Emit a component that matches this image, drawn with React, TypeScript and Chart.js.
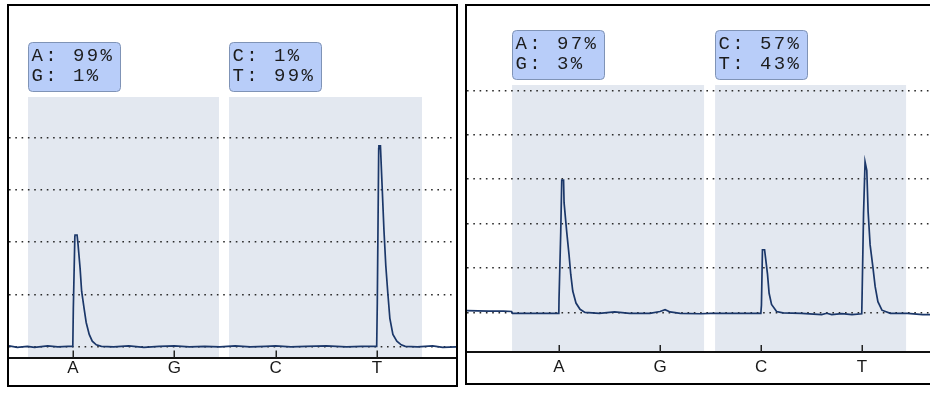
import { useEffect, useRef } from 'react';
import { Chart, registerables } from 'chart.js';

Chart.register(...registerables);

// ---- data ----
const categories = ['A', 'G', 'C', 'T'];
const tickPositions = [1, 2, 3, 4];

const leftPercents = [99, 1, 1, 99];
const rightPercents = [97, 3, 57, 43];

// shaded dispensation groups (x in dispensation units)
const leftShades = [[0.556, 2.441], [2.54, 4.445]];
const rightShades = [[0.535, 2.436], [2.545, 4.436]];

const leftGridValues = [0, 10, 20, 30, 40];
const rightGridValues = [0, 10, 20, 30, 40, 50];

const leftTraceX = [
  0.368, 0.45, 0.55, 0.62, 0.75, 0.85, 0.95, 0.998,
  1.003, 1.018, 1.02, 1.04, 1.05, 1.07, 1.085, 1.11, 1.13, 1.16, 1.19, 1.23, 1.28,
  1.4, 1.55, 1.7, 1.85, 2.0, 2.15, 2.3, 2.45, 2.6, 2.75, 2.9, 3.0, 3.15, 3.3, 3.5, 3.7, 3.85, 3.998,
  4.004, 4.018, 4.02, 4.035, 4.05, 4.07, 4.088, 4.108, 4.128, 4.158, 4.197, 4.24, 4.28,
  4.4, 4.55, 4.65, 4.781,
];
const leftTraceY = [
  0.1, -0.2, 0.0, -0.2, 0.1, -0.1, 0.0, 0.0,
  7.2, 21.0, 21.4, 21.4, 19.5, 15.0, 10.6, 7.2, 4.6, 2.3, 1.0, 0.3, 0.0,
  -0.1, 0.1, -0.2, 0.0, 0.1, -0.1, 0.0, -0.1, 0.1, -0.1, 0.0, 0.1, -0.1, 0.0, 0.1, -0.1, 0.0, 0.0,
  8.3, 38.0, 38.5, 38.5, 31.5, 22.2, 15.5, 10.2, 5.4, 2.3, 1.0, 0.3, 0.0,
  -0.1, 0.1, -0.2, -0.1,
];

const rightTraceX = [
  0.089, 0.3, 0.45, 0.53, 0.54, 0.7, 0.9, 0.998,
  1.0, 1.017, 1.027, 1.045, 1.05, 1.076, 1.099, 1.116, 1.136, 1.168, 1.208, 1.257,
  1.4, 1.55, 1.7, 1.9, 2.0, 2.05, 2.1, 2.2, 2.4, 2.5, 2.7, 2.9, 2.998,
  3.004, 3.014, 3.035, 3.045, 3.064, 3.08, 3.104, 3.154, 3.216,
  3.4, 3.6, 3.65, 3.7, 3.8, 3.9, 3.997,
  4.0, 4.015, 4.03, 4.047, 4.06, 4.08, 4.107, 4.13, 4.157, 4.197, 4.28, 4.45, 4.6, 4.752,
];
const rightTraceY = [
  0.4, 0.3, 0.3, 0.2, -0.2, -0.2, -0.2, -0.2,
  3.0, 18.0, 29.8, 29.8, 24.7, 18.2, 13.0, 8.6, 4.8, 2.1, 0.7, 0.0,
  -0.2, 0.1, -0.2, -0.2, 0.2, 0.6, 0.1, -0.2, -0.3, -0.2, -0.2, -0.2, -0.2,
  1.6, 14.1, 14.1, 12.2, 8.6, 4.3, 1.8, 0.2, -0.1,
  -0.2, -0.5, -0.2, -0.5, -0.3, -0.5, -0.3,
  3.2, 22.4, 33.9, 32.0, 22.7, 15.2, 10.3, 5.8, 2.4, 0.5, -0.2, -0.2, -0.5, -0.5,
];

type PanelCfg = {
  traceX: number[];
  traceY: number[];
  percents: number[];
  shades: number[][];
  gridValues: number[];
  xMin: number;
  xMax: number;
  yMin: number;
  yMax: number;
  padTop: number;
  padBottom: number;
  labelPad: number;
  width: number;
  height: number;
};

const TRACE_COLOR = '#1b3769';
const SHADE_COLOR = '#e3e8f0';
const BOX_FILL = '#b8cdf9';
const BOX_STROKE = '#7f93b6';

function makePlugin(cfg: PanelCfg) {
  return {
    id: 'pyroDecor',
    beforeDraw(chart: any) {
      const { ctx, chartArea } = chart;
      const xs = chart.scales.x;
      ctx.save();
      ctx.fillStyle = SHADE_COLOR;
      cfg.shades.forEach(([a, b]) => {
        const x1 = xs.getPixelForValue(a);
        const x2 = xs.getPixelForValue(b);
        ctx.fillRect(x1, chartArea.top, x2 - x1, chartArea.bottom - chartArea.top);
      });
      ctx.restore();
    },
    afterDraw(chart: any) {
      const { ctx, chartArea } = chart;
      const xs = chart.scales.x;
      ctx.save();
      // inward tick marks
      ctx.strokeStyle = '#222';
      ctx.lineWidth = 1.5;
      tickPositions.forEach((v) => {
        const x = Math.round(xs.getPixelForValue(v)) + 0.25;
        ctx.beginPath();
        ctx.moveTo(x, chartArea.bottom);
        ctx.lineTo(x, chartArea.bottom - 7);
        ctx.stroke();
      });
      // percentage boxes
      const boxW = 92;
      const boxH = 49;
      cfg.shades.forEach(([a], gi) => {
        const bx = Math.round(xs.getPixelForValue(a)) + 0.5;
        const by = chartArea.top - 6 - boxH + 0.5;
        ctx.beginPath();
        (ctx as any).roundRect(bx, by, boxW, boxH, 4);
        ctx.fillStyle = BOX_FILL;
        ctx.fill();
        ctx.lineWidth = 1;
        ctx.strokeStyle = BOX_STROKE;
        ctx.stroke();
        ctx.fillStyle = '#1c1c1c';
        ctx.font = '19px "Liberation Mono", "Courier New", monospace';
        (ctx as any).letterSpacing = '2.4px';
        ctx.textBaseline = 'middle';
        ctx.textAlign = 'left';
        for (let k = 0; k < 2; k++) {
          const idx = gi * 2 + k;
          ctx.fillText(`${categories[idx]}: ${cfg.percents[idx]}%`, bx + 3, by + 13 + k * 20);
        }
      });
      ctx.restore();
    },
  };
}

function Panel({ cfg }: { cfg: PanelCfg }) {
  const ref = useRef<HTMLCanvasElement | null>(null);
  useEffect(() => {
    if (!ref.current) return;
    const points = cfg.traceX.map((x, i) => ({ x, y: cfg.traceY[i] }));
    const chart = new Chart(ref.current, {
      type: 'line',
      data: {
        datasets: [
          {
            data: points,
            borderColor: TRACE_COLOR,
            borderWidth: 1.7,
            pointRadius: 0,
            tension: 0,
            fill: false,
          },
        ],
      },
      options: {
        animation: false,
        responsive: false,
        maintainAspectRatio: false,
        devicePixelRatio: 1,
        layout: { padding: { top: cfg.padTop, bottom: cfg.padBottom, left: 0, right: 0 } },
        plugins: { legend: { display: false }, tooltip: { enabled: false } },
        scales: {
          x: {
            type: 'linear',
            min: cfg.xMin,
            max: cfg.xMax,
            afterBuildTicks: (s: any) => {
              s.ticks = tickPositions.map((v) => ({ value: v }));
            },
            ticks: {
              callback: (v: any) => {
                const i = tickPositions.indexOf(Number(v));
                return i >= 0 ? categories[i] : '';
              },
              autoSkip: false,
              maxRotation: 0,
              padding: cfg.labelPad,
              color: '#1a1a1a',
              font: { family: '"Liberation Sans", Arial, sans-serif', size: 17 },
            },
            grid: { display: true, drawOnChartArea: false, drawTicks: false },
            border: { display: true, color: '#111', width: 2 },
          },
          y: {
            type: 'linear',
            min: cfg.yMin,
            max: cfg.yMax,
            afterBuildTicks: (s: any) => {
              s.ticks = cfg.gridValues.map((v) => ({ value: v }));
            },
            ticks: { display: false },
            grid: { display: true, drawTicks: false, color: '#2a2a2a', lineWidth: 1.6 },
            border: { display: false, dash: [1.6, 4.7] },
          },
        },
      },
      plugins: [makePlugin(cfg)],
    } as any);
    return () => chart.destroy();
  }, [cfg]);
  return (
    <canvas
      ref={ref}
      width={cfg.width}
      height={cfg.height}
      style={{ display: 'block', width: cfg.width, height: cfg.height }}
    />
  );
}

const leftCfg: PanelCfg = {
  traceX: leftTraceX,
  traceY: leftTraceY,
  percents: leftPercents,
  shades: leftShades,
  gridValues: leftGridValues,
  xMin: 0.368,
  xMax: 4.781,
  yMin: -2.13,
  yMax: 47.9,
  padTop: 91,
  padBottom: 5.1,
  labelPad: 1,
  width: 447,
  height: 379,
};

const rightCfg: PanelCfg = {
  traceX: rightTraceX,
  traceY: rightTraceY,
  percents: rightPercents,
  shades: rightShades,
  gridValues: rightGridValues,
  xMin: 0.089,
  xMax: 4.752,
  yMin: -8.94,
  yMax: 51.2,
  padTop: 79,
  padBottom: 0.5,
  labelPad: 5,
  width: 471,
  height: 377,
};

export default function App() {
  return (
    <div
      style={{
        position: 'fixed',
        left: 0,
        top: 0,
        width: 930,
        height: 393,
        overflow: 'hidden',
        background: '#fff',
      }}
    >
      <div
        style={{
          position: 'absolute',
          left: 7,
          top: 4,
          width: 451,
          height: 383,
          border: '2px solid #000',
          boxSizing: 'border-box',
          background: '#fff',
        }}
      >
        <Panel cfg={leftCfg} />
      </div>
      <div
        style={{
          position: 'absolute',
          left: 465,
          top: 4,
          width: 475,
          height: 381,
          border: '2px solid #000',
          boxSizing: 'border-box',
          background: '#fff',
        }}
      >
        <Panel cfg={rightCfg} />
      </div>
    </div>
  );
}
